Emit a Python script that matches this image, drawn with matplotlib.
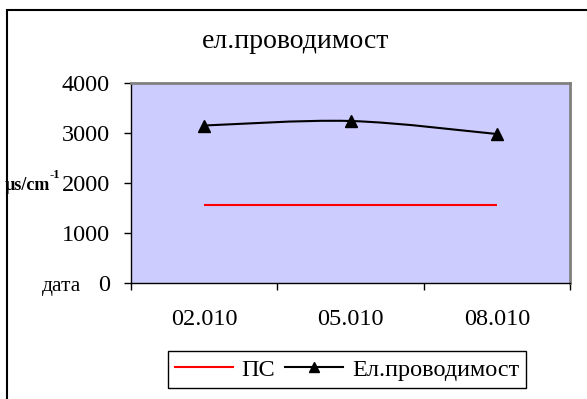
import matplotlib
matplotlib.use("Agg")
import matplotlib.pyplot as plt
from matplotlib.path import Path
from matplotlib.patches import PathPatch, Rectangle
from matplotlib.lines import Line2D
import numpy as np

categories = ["02.010", "05.010", "08.010"]
conductivity = [3150, 3240, 2980]
ps_limit = [1570, 1570, 1570]
y_ticks = [0, 1000, 2000, 3000, 4000]

plt.rcParams['font.family'] = ['Liberation Serif', 'DejaVu Serif']

W, H = 587, 399
fig = plt.figure(figsize=(W / 100, H / 100), dpi=100)

def fx(px):
    return px / W

def fy(py):
    return 1 - py / H

PT = 72 / 100  # points per pixel

ax = fig.add_axes([fx(131), fy(283), (570 - 131) / W, (283 - 83) / H])
ax.set_facecolor('#CCCCFF')

x = np.arange(len(categories))

# PS line (straight, red)
ax.plot(x, ps_limit, color='#FF0000', lw=1.5, solid_capstyle='butt')

# Smoothed conductivity line (Excel-like Bezier smoothing)
pts = list(zip(x.astype(float), [float(v) for v in conductivity]))
verts = [pts[0]]
codes = [Path.MOVETO]
n = len(pts)
for i in range(n - 1):
    p0 = np.array(pts[i - 1] if i > 0 else pts[i])
    p1 = np.array(pts[i])
    p2 = np.array(pts[i + 1])
    p3 = np.array(pts[i + 2] if i + 2 < n else pts[i + 1])
    c1 = p1 + (p2 - p0) / 6
    c2 = p2 - (p3 - p1) / 6
    verts += [tuple(c1), tuple(c2), tuple(p2)]
    codes += [Path.CURVE4] * 3
ax.add_patch(PathPatch(Path(verts, codes), facecolor='none', edgecolor='black', lw=1.5))
ax.plot(x, conductivity, linestyle='none', marker='^', color='black', markersize=8)

ax.set_xlim(-0.5, len(categories) - 0.5)
ax.set_ylim(0, 4000)
ax.set_yticks(y_ticks)
ax.set_yticklabels([str(v) for v in y_ticks])
ax.set_xticks(x)
ax.set_xticklabels(categories)
ax.set_xticks(np.arange(-0.5, len(categories), 1.0), minor=True)
ax.tick_params(axis='x', which='major', length=0, pad=26 * PT, labelsize=17.5)
ax.tick_params(axis='x', which='minor', length=7 * PT, width=1, direction='out', color='black')
ax.tick_params(axis='y', which='major', length=7 * PT, width=1, direction='out',
               pad=14 * PT, labelsize=17.5)

for s in ['top', 'right']:
    ax.spines[s].set_color('#808080')
    ax.spines[s].set_linewidth(2)
for s in ['left', 'bottom']:
    ax.spines[s].set_color('black')
    ax.spines[s].set_linewidth(1)

# Title
fig.text(fx(296), fy(41), "ел.проводимост", ha='center', va='center', fontsize=20)

# Y label
fig.text(fx(5), fy(186), "µs/cm", ha='left', va='center', fontsize=13, fontweight='bold')
fig.text(fx(49), fy(175), "-1", ha='left', va='center', fontsize=9, fontweight='bold')
fig.text(fx(62), fy(287), "дата", ha='center', va='center', fontsize=15.5)

# Legend
handles = [Line2D([], [], color='#FF0000', lw=1.5),
           Line2D([], [], color='black', lw=1.5, marker='^', markersize=7)]
leg = fig.legend(handles, ["ПС", "Ел.проводимост"], loc='center',
                 bbox_to_anchor=(fx(347), fy(369.5)), ncol=2, fontsize=17.5,
                 frameon=True, fancybox=False, shadow=False, framealpha=1,
                 handlelength=2.4, handletextpad=0.35, columnspacing=0.4,
                 borderpad=0.3, borderaxespad=0)
leg.get_frame().set_edgecolor('black')
leg.get_frame().set_linewidth(1)

# Outer chart border
fig.patches.append(Rectangle((fx(7), -0.1), 1.0, fy(10) + 0.1, transform=fig.transFigure,
                             fill=False, edgecolor='black', lw=1.5))

fig.savefig("out.png", dpi=100)
